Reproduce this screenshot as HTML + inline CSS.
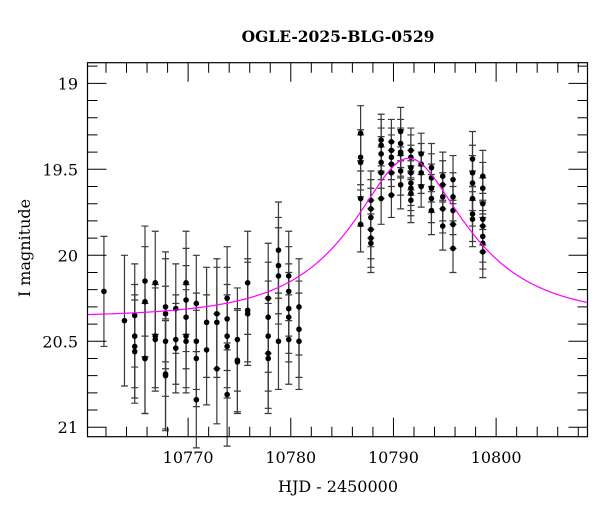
<!DOCTYPE html>
<html><head><meta charset="utf-8"><style>
body{margin:0;background:#fff;}
svg text{font-family:"DejaVu Serif","Liberation Serif",serif;fill:#000;}
</style></head><body>
<svg id="c" width="600" height="512" viewBox="0 0 600 512">
<text x="338" y="42" font-size="15.5" font-weight="bold" text-anchor="middle">OGLE-2025-BLG-0529</text>
<text x="338" y="492" font-size="16" text-anchor="middle">HJD - 2450000</text>
<text x="30" y="248" font-size="16" text-anchor="middle" transform="rotate(-90 30 248)">I magnitude</text>
<g id="marks"></g>
</svg>
<script>
const times=[10761.8,10763.8,10764.8,10765.8,10766.8,10767.8,10768.8,10769.8,10770.8,10771.8,10772.8,10773.8,10774.8,10775.8,10777.8,10778.8,10779.8,10780.8,
10786.8,10787.8,10788.8,10789.8,10790.7,10791.7,10792.7,10793.7,10794.8,10795.8,10797.7,10798.7];
const mags=[[20.21],[20.38],[20.35,20.47,20.53,20.56],[20.15,20.27,20.60,20.60],[20.16,20.47,20.49],[20.30,20.34,20.50,20.69,20.70],[20.31,20.49,20.54],[20.16,20.26,20.36,20.47,20.50],[20.28,20.50,20.60,20.84],[20.39,20.55],[20.34,20.39,20.66],[20.25,20.37,20.47,20.53,20.81],[20.49,20.61,20.62],[20.16,20.32,20.34],[20.25,20.36,20.47,20.57,20.60],[19.97,20.06,20.12,20.50],[20.12,20.21,20.31,20.36,20.49],[20.30,20.43,20.50],
[19.29,19.43,19.46,19.67,19.82],[19.68,19.73,19.78,19.85,19.90,19.93],[19.33,19.36,19.41,19.46,19.52,19.67],[19.34,19.39,19.43,19.47,19.52,19.65],[19.28,19.35,19.40,19.41,19.51,19.59],[19.39,19.43,19.49,19.52,19.58,19.61,19.64,19.68],[19.41,19.47,19.52,19.60],[19.49,19.55,19.61,19.67,19.74],[19.54,19.59,19.66,19.73,19.83],[19.56,19.66,19.74,19.82,19.96],[19.44,19.52,19.58,19.67,19.76,19.79],[19.54,19.61,19.70,19.79,19.83,19.89,19.93,19.98]];
const errs=[0.32,0.38,0.30,0.32,0.30,0.32,0.26,0.30,0.28,0.32,0.32,0.30,0.30,0.30,0.32,0.28,0.26,0.28,
0.16,0.17,0.15,0.13,0.14,0.13,0.12,0.14,0.14,0.14,0.16,0.15];
const xTicks=[10770,10780,10790,10800];
const yTicks=[19,19.5,20,20.5,21];
const model={t0:10791.5,tE:10,u0:0.46,base:20.36};

const X0=87.5,X1=587.5,Y0=62.7,Y1=436.7;
const tMin=10760.2,tMax=10808.9,mMin=18.88,mMax=21.055;
const xs=t=>X0+(t-tMin)/(tMax-tMin)*(X1-X0);
const ys=m=>Y0+(m-mMin)/(mMax-mMin)*(Y1-Y0);
const NS='http://www.w3.org/2000/svg';
const g=document.getElementById('marks');
function el(tag,attrs,parent){const e=document.createElementNS(NS,tag);for(const k in attrs)e.setAttribute(k,attrs[k]);(parent||g).appendChild(e);return e;}

const gb=el('g',{});


times.forEach((t,i)=>{
  mags[i].forEach(m=>{
    const x=xs(t),ya=ys(m-errs[i]),yb=ys(m+errs[i]);
    const b=el('path',{d:`M${x},${ya}V${yb}M${x-3.5},${ya}h7M${x-3.5},${yb}h7`,stroke:'#3a3a3a',"stroke-width":1.2,fill:'none'},gb);
    
    
  });
});
times.forEach((t,i)=>{
  mags[i].forEach(m=>{
    const p=el('circle',{cx:xs(t),cy:ys(m),r:2.8,fill:'#000'},gb);
    
    
  });
});

let d='';
for(let px=X0;px<=X1;px+=1){
  const t=tMin+(px-X0)/(X1-X0)*(tMax-tMin);
  const u=Math.sqrt(model.u0*model.u0+Math.pow((t-model.t0)/model.tE,2));
  const A=(u*u+2)/(u*Math.sqrt(u*u+4));
  const m=model.base-2.5*Math.log10(A);
  d+=(d?'L':'M')+px.toFixed(1)+','+ys(m).toFixed(2);
}
const cv=el('path',{d:d,stroke:'#ff00ff',"stroke-width":1.2,fill:'none'});



const fr=el('rect',{x:X0,y:Y0,width:X1-X0,height:Y1-Y0,fill:'none',stroke:'#000',"stroke-width":1.2});



let td='';
for(let t=10762;t<=10808;t+=2){
  const x=xs(t),L=(t%10===0)?19:10;
  td+=`M${x},${Y1}v${-L}M${x},${Y0}v${L}`;
}
for(let k=189;k<=210;k++){
  const m=k/10,y=ys(m),L=(k%5===0)?19:10;
  td+=`M${X0},${y}h${L}M${X1},${y}h${-L}`;
}
const tk=el('path',{d:td,stroke:'#000',"stroke-width":1});



xTicks.forEach(t=>{
  const tx=el('text',{x:xs(t),y:463,"font-size":16,"text-anchor":"middle"});
  tx.textContent=t;
  
  
});
yTicks.forEach(m=>{
  const tx=el('text',{x:78,y:ys(m)+6,"font-size":16,"text-anchor":"end"});
  tx.textContent=m;
  
  
});
</script>
</body></html>
